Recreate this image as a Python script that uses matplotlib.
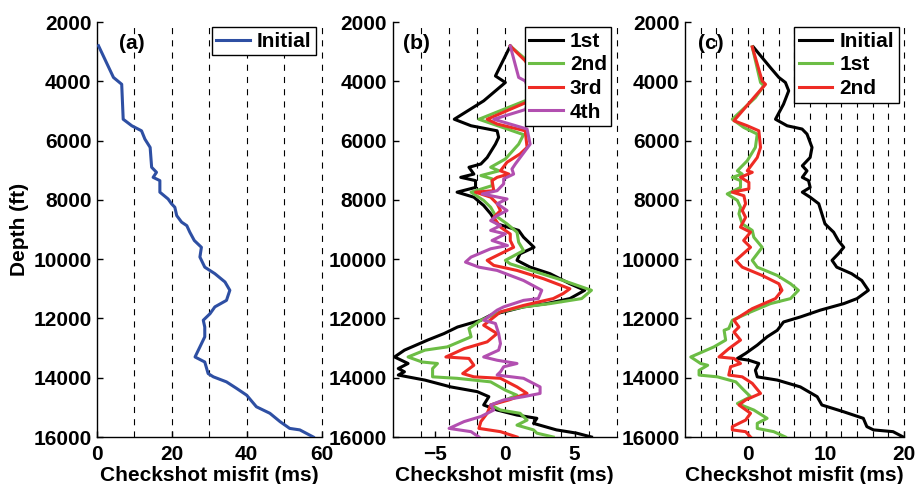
import matplotlib
matplotlib.use('Agg')
import matplotlib.pyplot as plt
import numpy as np

plt.rcParams['font.family'] = ['Liberation Sans', 'DejaVu Sans']
plt.rcParams['font.weight'] = 'bold'
plt.rcParams['font.size'] = 15
plt.rcParams['axes.labelweight'] = 'bold'

# ---- panel (a): initial misfit ----
a_init_depth = [2800, 3870, 4100, 5280, 5500, 5670, 5950, 6230, 6900, 7070, 7240, 7350,
                7740, 7970, 8130, 8250, 8530, 8750, 8870, 9090, 9370, 9600, 9930, 10270,
                10490, 10770, 11050, 11390, 11610, 11840, 12060, 12290, 12620, 12960,
                13300, 13470, 13860, 13970, 14140, 14360, 14590, 14980, 15200, 15480,
                15710, 15760, 16000]
a_init_misfit = [0.4, 4.4, 6.6, 7.0, 9.3, 11.9, 12.8, 14.2, 14.6, 15.9, 15.0, 16.8,
                 16.8, 19.0, 19.9, 20.8, 21.3, 22.6, 24.0, 24.8, 26.0, 27.9, 27.5, 28.8,
                 31.5, 34.2, 35.5, 34.6, 31.5, 30.2, 28.4, 28.8, 28.8, 27.5,
                 26.2, 28.8, 29.7, 31.1, 34.6, 37.3, 40.0, 42.6, 46.2, 48.9,
                 51.5, 54.2, 57.8]

# ---- panel (b): iterations 1st..4th ----
b_1st_depth = [2810, 3820, 4040, 4660, 5280, 5500, 5670, 5890, 6120, 6570, 6790, 6900,
               7130, 7240, 7350, 7580, 7740, 7910, 8190, 8470, 8810, 9030, 9260, 9600,
               9820, 10040, 10270, 10490, 10830, 11050, 11330, 11500, 11610, 11890,
               12060, 12290, 12510, 12730, 13070, 13300, 13520, 13690, 13800, 13910,
               14080, 14310, 14470, 14640, 14920, 15090, 15260, 15370, 15540, 15760,
               15870, 16000]
b_1st_misfit = [0.4, -0.66, 0.05, -1.5, -3.6, -2.4, -0.54, -0.43, -0.66, -1.25, -1.7, -2.55,
                -2.2, -3.14, -2.08, -2.08, -3.4, -2.2, -1.5, -1.0, -0.54, 1.0, 1.35, 2.1,
                1.1, 0.88, 1.82, 3.24, 4.66, 5.72, 4.66, 3.0, 1.35, -1.0,
                -1.7, -3.37, -4.33, -5.5, -7.16, -7.87, -6.9, -7.6, -7.16, -7.6,
                -5.7, -3.85, -1.96, -1.13, -1.5, -0.54, 0.88, 2.3, 2.06, 3.7,
                5.14, 6.2]

b_2nd_depth = [2810, 3300, 3900, 4300, 4650, 5280, 5800, 6120, 6620, 6900, 7020, 7180,
               7290, 7520, 7740, 8020, 8250, 8530, 8810, 9090, 9430, 9710, 10040, 10160,
               10440, 10720, 11050, 11330, 11500, 11610, 11780, 12060, 12340, 12620,
               12960, 13070, 13300, 13470, 13520, 13690, 13970, 14020, 14140, 14420,
               14590, 14750, 14920, 15090, 15200, 15430, 15600, 15760, 15870, 16000]
b_2nd_misfit = [0.4, 1.6, 2.4, 2.6, 1.5, -1.84, 1.35, 1.0, 0.05, -1.0, -0.4, -1.7,
                -0.9, -0.9, -2.4, -1.5, -1.0, -0.66, 0.17, 0.88, 1.0, 1.35, 0.05, 0.4,
                2.3, 4.18, 6.2, 5.5, 3.24, 1.35, -0.3, -1.7, -2.55, -2.4,
                -4.1, -5.7, -6.9, -5.9, -4.8, -5.15, -5.15, -3.4, -1.0, 0.05,
                0.88, 0.05, -1.0, -0.3, 1.1, 1.6, 0.88, 2.06, 2.3, 3.47]

b_3rd_depth = [2810, 3310, 3900, 4400, 4700, 5280, 5440, 5670, 6230, 6450, 6730, 7020,
               7130, 7240, 7350, 7690, 7740, 7910, 8130, 8360, 8590, 8920, 9150, 9370,
               9600, 10040, 10210, 10380, 10660, 11000, 11160, 11330, 11560, 11780,
               12230, 12510, 12790, 13020, 13300, 13350, 13580, 13860, 13970, 14020,
               14310, 14530, 14750, 14920, 15200, 15480, 15710, 15820, 16000]
b_3rd_misfit = [0.4, 1.47, 2.2, 2.3, 1.6, -1.25, -0.54, 1.47, 1.6, 1.1, 0.17, -0.3,
                0.3, -0.54, -0.9, -0.78, -2.08, -1.0, -0.54, -0.3, -0.78, -0.3, 0.4, 0.4,
                0.64, -1.25, -0.78, 0.88, 2.77, 4.66, 4.18, 3.47, 1.35, -0.3,
                -1.5, -0.54, -1.25, -2.9, -4.2, -2.55, -2.2, -3.0, -2.2, -0.3,
                0.88, 1.6, 0.3, -1.0, -1.25, -1.7, -1.84, -0.3, 0.88]

b_4th_depth = [2810, 3870, 3990, 4400, 4950, 5280, 5610, 6120, 6340, 6790, 6960, 7130,
               7290, 7460, 7690, 7800, 7970, 8130, 8360, 8530, 8700, 8870, 9030, 9150,
               9370, 9540, 9650, 9930, 10100, 10270, 10380, 10720, 11050, 11330, 11390,
               11610, 11720, 12060, 12170, 12510, 12850, 13070, 13300, 13410, 13520,
               13630, 13800, 13910, 14020, 14310, 14530, 14640, 14750, 14920, 15090,
               15310, 15480, 15710, 15820, 16000]
b_4th_misfit = [0.4, 1.0, 1.47, 1.8, 1.5, -0.78, 1.6, 1.82, 1.47, 0.76, 0.52, 0.64,
                -0.07, -0.07, -0.54, -1.6, 0.17, -0.54, 0.17, -0.54, -1.0, -0.3, -1.0, 0.05,
                -0.9, 0.2, -1.0, -2.4, -2.8, -1.84, -0.54, 1.35, 2.65, 2.4, 1.35,
                -0.07, -0.54, -1.5, -0.66, -0.43, -0.3, -0.43, -1.5, -0.54, 0.88,
                -0.07, -0.3, -0.54, 1.35, 2.53, 2.53, 1.35, -0.07, -1.0, -0.78,
                -1.7, -2.9, -3.97, -2.4, -1.84]

# ---- panel (c): initial, 1st, 2nd ----
c_init_depth = [2840, 3540, 3870, 4040, 4320, 4770, 5280, 5500, 5610, 5780, 6230, 6570,
                6850, 7020, 7240, 7350, 7580, 7740, 7910, 8130, 8470, 8810, 9090, 9370,
                9600, 9820, 10040, 10270, 10490, 10720, 11050, 11330, 11500, 11720,
                11950, 12120, 12400, 12620, 12900, 13180, 13350, 13410, 13520, 13750,
                13970, 14080, 14310, 14640, 14920, 15150, 15370, 15650, 15760, 15820, 16000]
c_init_misfit = [0.73, 2.93, 4.0, 4.84, 5.26, 4.6, 3.57, 5.06, 6.97, 7.6, 8.24, 8.0,
                 7.0, 7.6, 7.0, 7.8, 8.0, 7.0, 8.0, 9.1, 9.5, 9.9, 11.0, 11.6,
                 12.3, 11.6, 10.8, 11.4, 13.3, 14.6, 15.45, 14.0, 12.3, 9.3,
                 6.75, 4.6, 3.8, 2.5, 1.24, -0.25, -1.3, 0.17, 1.44, 1.0,
                 1.24, 3.8, 6.75, 8.9, 9.5, 12.3, 14.8, 15.25, 16.1, 18.6, 19.9]

c_1st_depth = [2840, 4040, 4150, 4550, 5280, 5560, 5780, 6230, 6680, 7020, 7130, 7240,
               7350, 7580, 7800, 8020, 8250, 8470, 8810, 9030, 9260, 9600, 10040, 10270,
               10550, 10830, 11050, 11330, 11500, 11780, 12060, 12340, 12400, 12730,
               12960, 13300, 13520, 13580, 13750, 13910, 13970, 14140, 14420, 14640,
               14870, 15090, 15370, 15540, 15710, 15820, 16000]
c_1st_misfit = [0.6, 1.66, 2.08, 1.0, -1.95, -0.47, 1.24, 1.0, -0.04, -1.3, -0.68, -1.95,
                -0.9, -0.9, -2.6, -1.3, -0.9, -1.1, -0.68, 0.6, 0.8, 1.87, 0.6, 1.24,
                3.8, 5.5, 6.5, 5.5, 2.93, 0.4, -1.95, -2.4, -3.0, -2.8,
                -4.3, -7.26, -6.0, -5.1, -6.2, -6.2, -3.86, -1.5, -0.47, 0.38,
                -1.3, 0.8, 2.5, 1.24, 1.24, 3.35, 4.84]

c_2nd_depth = [2840, 3990, 4100, 4490, 5330, 5500, 5670, 6230, 6570, 7020, 7070, 7240,
               7410, 7630, 7740, 7860, 8130, 8360, 8590, 8920, 9090, 9370, 9600, 10040,
               10270, 10550, 10830, 11050, 11330, 11670, 12060, 12290, 12460, 12730,
               13020, 13300, 13350, 13520, 13630, 13910, 13970, 14190, 14530, 14750,
               14920, 15200, 15430, 15650, 15760, 15820, 16000]
c_2nd_misfit = [0.6, 1.87, 2.3, 1.0, -1.74, -0.04, 1.44, 1.66, 1.24, -0.04, 0.6, -0.9,
                0.17, 0.17, -1.95, -0.47, -0.25, -0.68, -0.25, -0.9, 0.38, -0.5, 0.38, -1.5,
                -0.68, 1.87, 4.0, 4.4, 3.57, 0.6, -1.74, -1.1, -1.74, -0.9,
                -2.4, -3.65, -1.74, -0.9, -2.17, -2.4, -0.68, 0.6, 1.66, -0.25,
                -1.1, 0.38, -0.25, -1.95, -1.95, -0.25, 0.38]

depth_ticks = [2000, 4000, 6000, 8000, 10000, 12000, 14000, 16000]

BLUE = '#2e4fa3'
GREEN = '#6cbd45'
RED = '#ee2b24'
MAGENTA = '#b24fb0'
FS = 15


def style_axis(ax, xlim, xticks, grid_x, tag, tag_x):
    ax.set_xlim(*xlim)
    ax.set_ylim(16000, 2000)
    ax.set_xticks(xticks)
    ax.set_yticks(depth_ticks)
    for gx in grid_x:
        ax.axvline(gx, color='k', lw=0.8, ls=(0, (5.5, 5.5)), zorder=1, clip_on=False)
    for side in ('top', 'right'):
        ax.spines[side].set_visible(False)
    for side in ('left', 'bottom'):
        ax.spines[side].set_linewidth(1.0)
    ax.tick_params(direction='in', length=4, width=1, labelsize=FS, pad=4)
    ax.tick_params(axis='x', pad=6)
    ax.set_xlabel('Checkshot misfit (ms)', fontsize=FS, labelpad=1)
    ax.text(tag_x, 0.948, tag, transform=ax.transAxes, ha='left', va='center',
            fontsize=FS, fontweight='bold')


def add_legend(ax):
    leg = ax.legend(loc='upper right', fancybox=False, framealpha=1, edgecolor='k',
                    handlelength=1.6, handletextpad=0.35, labelspacing=0.22,
                    borderpad=0.22, borderaxespad=0.25, fontsize=FS)
    leg.get_frame().set_linewidth(1.0)
    leg.set_zorder(10)


fig = plt.figure(figsize=(9.16, 4.84), dpi=100)
bottom = 0.0971
height = 0.8574
ax_a = fig.add_axes([0.1059, bottom, 0.2451, height])
ax_b = fig.add_axes([0.4287, bottom, 0.2445, height])
ax_c = fig.add_axes([0.7478, bottom, 0.2391, height])

lw = 2.2

# (a)
ax_a.plot(a_init_misfit, a_init_depth, color=BLUE, lw=lw, label='Initial', zorder=3)
style_axis(ax_a, (0, 60), [0, 20, 40, 60], np.arange(10, 61, 10), '(a)', 0.10)
ax_a.set_ylabel('Depth (ft)', fontsize=FS, labelpad=3)
add_legend(ax_a)

# (b)
ax_b.plot(b_1st_misfit, b_1st_depth, color='k', lw=lw, label='1st', zorder=3)
ax_b.plot(b_2nd_misfit, b_2nd_depth, color=GREEN, lw=lw, label='2nd', zorder=3)
ax_b.plot(b_3rd_misfit, b_3rd_depth, color=RED, lw=lw, label='3rd', zorder=3)
ax_b.plot(b_4th_misfit, b_4th_depth, color=MAGENTA, lw=lw, label='4th', zorder=3)
style_axis(ax_b, (-8, 8), [-5, 0, 5], np.arange(-6, 9, 2), '(b)', 0.046)
add_legend(ax_b)

# (c)
ax_c.plot(c_init_misfit, c_init_depth, color='k', lw=lw, label='Initial', zorder=3)
ax_c.plot(c_1st_misfit, c_1st_depth, color=GREEN, lw=lw, label='1st', zorder=3)
ax_c.plot(c_2nd_misfit, c_2nd_depth, color=RED, lw=lw, label='2nd', zorder=3)
style_axis(ax_c, (-8, 20), [0, 10, 20], np.arange(-6, 21, 2), '(c)', 0.061)
add_legend(ax_c)

fig.savefig('out.png', dpi=100)
